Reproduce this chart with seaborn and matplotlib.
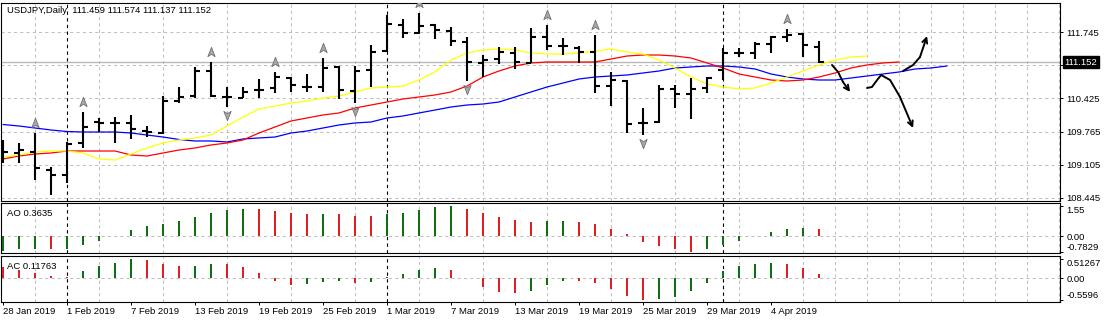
import numpy as np
import pandas as pd
import matplotlib
matplotlib.use("Agg")
import matplotlib.pyplot as plt
from matplotlib.path import Path
from matplotlib.transforms import offset_copy, blended_transform_factory
import seaborn as sns

# ---------------------------------------------------------------- data
symbol = "USDJPY"
timeframe = "Daily"
dates = pd.bdate_range("2019-01-28", periods=52)

open_ = [109.356, 109.336, 109.356, 108.997, 108.897, 109.536, 109.955, 109.935, 109.935, 109.775,
         109.735, 110.374, 110.474, 110.973, 110.454, 110.434, 110.594, 110.634, 110.833, 110.653,
         110.653, 111.053, 110.574, 110.993, 111.372, 111.891, 111.731, 111.891, 111.771, 111.552,
         111.133, 111.212, 111.332, 111.133, 111.651, 111.472, 111.432, 111.352, 110.673, 110.773,
         109.935, 109.955, 110.614, 110.514, 110.634, 110.993, 111.332, 111.332, 111.512, 111.651,
         111.711, 111.459]
high = [109.596, 109.536, 109.735, 109.057, 109.556, 110.154, 110.035, 110.055, 110.095, 109.875,
        110.474, 110.653, 111.053, 111.152, 110.653, 110.653, 110.813, 110.953, 110.853, 110.913,
        111.232, 111.073, 111.073, 111.492, 112.091, 112.011, 112.131, 111.911, 111.851, 111.651,
        111.292, 111.452, 111.452, 111.831, 111.891, 111.632, 111.472, 111.691, 110.953, 110.793,
        110.234, 110.693, 110.693, 110.833, 110.853, 111.432, 111.432, 111.552, 111.671, 111.811,
        111.731, 111.574]
low = [109.137, 109.137, 108.797, 108.498, 108.737, 109.436, 109.755, 109.536, 109.616, 109.655,
       109.715, 110.334, 110.434, 110.454, 110.254, 110.434, 110.434, 110.534, 110.554, 110.554,
       110.554, 110.414, 110.334, 110.653, 111.352, 111.632, 111.711, 111.612, 111.472, 110.773,
       110.853, 111.113, 111.013, 111.133, 111.392, 111.292, 111.133, 110.534, 110.274, 109.735,
       109.695, 109.935, 110.234, 110.015, 110.534, 110.793, 111.252, 111.212, 111.332, 111.552,
       111.252, 111.137]
close = [109.356, 109.396, 109.037, 108.897, 109.516, 109.855, 109.935, 109.935, 109.815, 109.755,
         110.374, 110.454, 110.973, 110.474, 110.454, 110.554, 110.594, 110.853, 110.693, 110.653,
         111.033, 110.594, 110.973, 111.352, 111.911, 111.731, 111.871, 111.791, 111.572, 111.152,
         111.192, 111.352, 111.152, 111.651, 111.472, 111.472, 111.352, 110.673, 110.793, 109.915,
         109.935, 110.614, 110.514, 110.614, 110.833, 111.332, 111.332, 111.512, 111.651, 111.691,
         111.492, 111.152]

# Alligator lines (already shifted forward: jaw 8, teeth 5, lips 3 bars)
jaw = [109.905, 109.875, 109.835, 109.795, 109.765, 109.755, 109.755, 109.755, 109.735, 109.695,
       109.655, 109.606, 109.576, 109.576, 109.556, 109.616, 109.636, 109.655, 109.735, 109.775,
       109.835, 109.895, 109.935, 109.955, 110.035, 110.075, 110.135, 110.194, 110.254, 110.294,
       110.314, 110.354, 110.454, 110.554, 110.653, 110.733, 110.813, 110.853, 110.873, 110.893,
       110.933, 110.973, 111.033, 111.053, 111.073, 111.073, 111.053, 111.013, 110.913, 110.853,
       110.813, 110.793, 110.793, 110.833, 110.873, 110.913, 110.953, 111.013, 111.033, 111.073]
teeth = [109.216, 109.276, 109.316, 109.336, 109.376, 109.376, 109.376, 109.376, 109.296, 109.276,
         109.336, 109.396, 109.436, 109.496, 109.536, 109.596, 109.735, 109.855, 109.975, 110.035,
         110.095, 110.135, 110.234, 110.294, 110.354, 110.414, 110.454, 110.494, 110.554, 110.673,
         110.853, 110.973, 111.073, 111.133, 111.152, 111.152, 111.152, 111.152, 111.212, 111.272,
         111.292, 111.292, 111.272, 111.232, 111.133, 111.033, 110.913, 110.853, 110.793, 110.773,
         110.793, 110.853, 110.933, 111.033, 111.093, 111.133, 111.152]
lips = [109.256, 109.296, 109.356, 109.376, 109.376, 109.336, 109.216, 109.196, 109.316, 109.436,
        109.536, 109.596, 109.636, 109.695, 109.875, 110.055, 110.214, 110.274, 110.334, 110.374,
        110.434, 110.474, 110.554, 110.634, 110.653, 110.673, 110.793, 110.953, 111.192, 111.332,
        111.392, 111.412, 111.392, 111.332, 111.312, 111.312, 111.332, 111.372, 111.412, 111.352,
        111.312, 111.192, 111.033, 110.853, 110.713, 110.653, 110.614, 110.634, 110.733, 110.853,
        110.973, 111.093, 111.192, 111.252, 111.272]

fractal_up = [2, 5, 13, 17, 20, 26, 34, 37, 49]
fractal_down = [14, 22, 29, 40]

ao = [-0.732, -0.630, -0.625, -0.640, -0.635, -0.426, -0.221, 0.034, 0.324, 0.528,
      0.647, 0.783, 0.988, 1.192, 1.345, 1.396, 1.390, 1.294, 1.192, 1.141,
      1.158, 1.141, 1.039, 1.030, 1.158, 1.192, 1.345, 1.499, 1.550, 1.396,
      1.192, 0.988, 0.834, 0.732, 0.783, 0.790, 0.732, 0.630, 0.375, 0.119,
      -0.290, -0.477, -0.647, -0.7829, -0.647, -0.426, -0.238, 0.034, 0.238, 0.375,
      0.426, 0.3635]
ac = [0.296, 0.218, 0.140, 0.061, 0.026, 0.192, 0.323, 0.401, 0.51267, 0.480,
      0.375, 0.323, 0.330, 0.384, 0.375, 0.296, 0.140, -0.070, -0.174, -0.148,
      -0.096, -0.070, -0.122, -0.096, 0.026, 0.113, 0.218, 0.270, 0.218, 0.009,
      -0.227, -0.358, -0.384, -0.331, -0.174, -0.070, -0.078, -0.122, -0.279, -0.462,
      -0.5596, -0.552, -0.488, -0.331, -0.122, 0.192, 0.323, 0.375, 0.401, 0.375,
      0.270, 0.11763]
ao_first_up = True
ac_first_up = False

# hand-drawn scenario arrows, (bar, price)
sketch_arrows = [
    ([51.81, 52.19, 52.50, 52.94], [111.093, 110.953, 110.753, 110.554]),
    ([54.00, 54.31, 54.63, 54.88, 55.44, 56.06, 56.88], [110.634, 110.654, 110.793, 110.893, 110.793, 110.454, 109.835]),
    ([56.25, 56.88, 57.31, 57.75], [110.973, 111.093, 111.252, 111.671]),
]

price_levels = [108.445, 109.105, 109.765, 110.425, 111.085, 111.745]

# ---------------------------------------------------------------- style
sns.set_theme(style="white")
plt.rcParams["font.family"] = ["Liberation Sans", "DejaVu Sans"]
FS = 6.8
GRID = "#c0c0c0"
BULL, BEAR = "#008000", "#ff0000"

W, H = 1107, 323
fig = plt.figure(figsize=(W / 100, H / 100), dpi=100)
fig.patch.set_facecolor("white")


def frame(top, bottom):
    return [1 / W, 1 - bottom / H, 1059 / W, (bottom - top) / H]


ax = fig.add_axes(frame(2.5, 200.5))
ax_ao = fig.add_axes(frame(202.5, 253))
ax_ac = fig.add_axes(frame(255.5, 302))

x = np.arange(len(close))
n_view = 66.06
month_start = [i for i in range(1, len(dates)) if dates[i].month != dates[i - 1].month]
label_pos = list(range(0, len(dates), 4))
date_labels = [f"{dates[i].day} {dates[i]:%b %Y}" for i in label_pos]

for a in (ax, ax_ao, ax_ac):
    a.set_facecolor("white")
    a.set_xlim(-0.125, n_view)
    a.set_axisbelow(True)
    for s in a.spines.values():
        s.set_color("black")
        s.set_linewidth(0.8)
    a.set_xticks(label_pos)
    a.set_xticks(range(0, 67, 2), minor=True)
    a.grid(False)
    a.grid(True, which="minor", axis="x", color=GRID, lw=0.75, ls=(0, (3, 3)))
    a.tick_params(axis="x", which="both", bottom=False, labelbottom=False, length=0)
    a.yaxis.tick_right()
    a.tick_params(axis="y", which="major", right=True, left=False, direction="out",
                  length=2.2, width=0.7, pad=2.4, labelsize=FS, colors="black")
    for m in month_start:
        a.axvline(m, color="black", lw=0.8, ls=(0, (3, 3)), zorder=1.5)

# ---------------------------------------------------------------- main panel
ax.set_ylim(108.388, 112.340)
ax.set_yticks(price_levels)
# the level under the live-price tag carries no label of its own
ax.set_yticklabels(["" if abs(v - close[-1]) < 0.1 else f"{v:.3f}" for v in price_levels])
ax.grid(True, which="major", axis="y", color=GRID, lw=0.75, ls=(0, (3, 3)))
ax.axhline(close[-1], color="#b8b8b8", lw=1.0, zorder=1.2)

sns.lineplot(x=np.arange(len(jaw)), y=jaw, ax=ax, color="#0000ff", lw=0.9, zorder=2)
sns.lineplot(x=np.arange(len(teeth)), y=teeth, ax=ax, color="#ff0000", lw=0.9, zorder=2)
sns.lineplot(x=np.arange(len(lips)), y=lips, ax=ax, color="#ffff00", lw=0.9, zorder=2)

bar_lw = 1.5
tick = 0.3
ax.vlines(x, low, high, color="black", lw=bar_lw, zorder=3)
ax.hlines(open_, x - tick, x, color="black", lw=bar_lw, zorder=3)
ax.hlines(close, x, x + tick, color="black", lw=bar_lw, zorder=3)

up_marker = Path([(0, 1), (0.7, -0.8), (0, -0.35), (-0.7, -0.8), (0, 1)],
                 [Path.MOVETO, Path.LINETO, Path.LINETO, Path.LINETO, Path.CLOSEPOLY])
down_marker = Path([(0, -1), (0.7, 0.8), (0, 0.35), (-0.7, 0.8), (0, -1)],
                   [Path.MOVETO, Path.LINETO, Path.LINETO, Path.LINETO, Path.CLOSEPOLY])
hi = np.asarray(high)
lo = np.asarray(low)
ax.plot(fractal_up, hi[fractal_up], ls="none", marker=up_marker, ms=7.5,
        mfc="#a8a8a8", mec="#707070", mew=0.6, zorder=4,
        transform=offset_copy(ax.transData, fig=fig, y=7.2, units="points"))
ax.plot(fractal_down, lo[fractal_down], ls="none", marker=down_marker, ms=7.5,
        mfc="#a8a8a8", mec="#707070", mew=0.6, zorder=4,
        transform=offset_copy(ax.transData, fig=fig, y=-5.9, units="points"))

for xs, ys in sketch_arrows:
    ax.plot(xs[:-1], ys[:-1], color="black", lw=1.4, solid_capstyle="round",
            solid_joinstyle="round", zorder=5)
    ax.annotate("", xy=(xs[-1], ys[-1]), xytext=(xs[-2], ys[-2]),
                arrowprops=dict(arrowstyle="->", lw=1.4, color="black",
                                shrinkA=0, shrinkB=0, mutation_scale=9), zorder=5)

ax.annotate(f"{close[-1]:.3f}", xy=(1, close[-1]),
            xycoords=blended_transform_factory(ax.transAxes, ax.transData),
            xytext=(3.2, 0), textcoords="offset points", ha="left", va="center",
            fontsize=FS, color="white", annotation_clip=False, zorder=10,
            bbox=dict(boxstyle="square,pad=0.2", fc="black", ec="black"))

ax.annotate(f"{symbol},{timeframe}  {open_[-1]:.3f} {high[-1]:.3f} {low[-1]:.3f} {close[-1]:.3f}",
            xy=(0, 1), xycoords="axes fraction", xytext=(4.3, -5.9),
            textcoords="offset points", ha="left", va="center", fontsize=FS, color="black")


# ---------------------------------------------------------------- oscillators
def mt_label(v, digits):
    if v == 0:
        return "0.00"
    s = f"{v:.{digits}f}".rstrip("0")
    if len(s.split(".")[1]) < 2:
        s = f"{v:.2f}"
    return s


def oscillator(a, values, first_up, digits, name, ylim):
    values = np.asarray(values)
    rising = np.r_[first_up, np.diff(values) > 0]
    direction = np.where(rising, "up", "down")
    sns.barplot(x=np.arange(len(values)), y=values, hue=direction,
                palette={"up": BULL, "down": BEAR}, native_scale=True, dodge=False,
                width=0.16, errorbar=None, legend=False, orient="x", linewidth=0,
                ax=a, zorder=3)
    a.set_xlim(-0.125, n_view)
    a.set_ylim(*ylim)
    a.set_xlabel("")
    a.set_ylabel("")
    a.axhline(0, color=GRID, lw=0.75, ls=(0, (3, 3)), zorder=1)
    ticks = [values.min(), 0.0, values.max()]
    a.set_yticks(ticks)
    labels = a.set_yticklabels([mt_label(v, digits) for v in ticks])
    labels[0].set_va("bottom")
    labels[2].set_va("top")
    a.annotate(f"{name} {values[-1]:.{digits}f}", xy=(0, 1), xycoords="axes fraction",
               xytext=(4.3, -7.6), textcoords="offset points", ha="left", va="center",
               fontsize=FS, color="black")


oscillator(ax_ao, ao, ao_first_up, 4, "AO", (-0.853, 1.727))
oscillator(ax_ac, ac, ac_first_up, 5, "AC", (-0.620, 0.596))

for a in (ax, ax_ao, ax_ac):
    a.set_xticks(label_pos)
    a.set_xticks(range(0, 67, 2), minor=True)

ax_ac.set_xticklabels(date_labels)
ax_ac.tick_params(axis="x", which="major", bottom=True, labelbottom=True, direction="out",
                  length=2.2, width=0.7, pad=1.6, labelsize=FS, colors="black")
for lab in ax_ac.get_xticklabels():
    lab.set_ha("left")

fig.savefig("out.png", dpi=100, facecolor="white")
